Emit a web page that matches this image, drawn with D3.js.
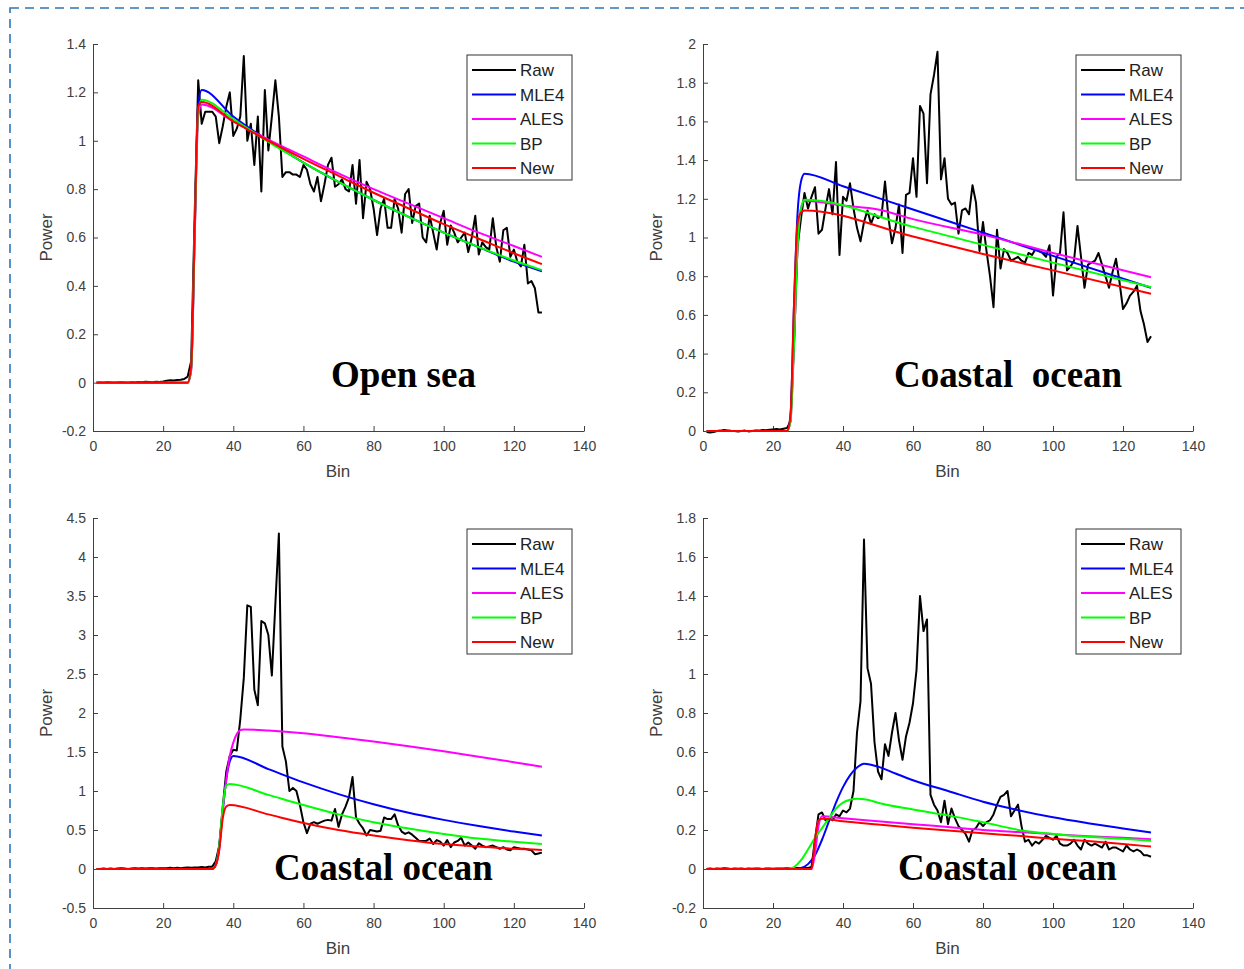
<!DOCTYPE html>
<html>
<head>
<meta charset="utf-8">
<script src="https://cdn.jsdelivr.net/npm/d3@7"></script>
<style>
  body { margin: 0; background: #fff; }
  svg { display: block; }
  .axis text { font-family: "Liberation Sans", Arial, sans-serif; font-size: 14px; fill: #404040; }
  .axis path, .axis line { stroke: #404040; stroke-width: 1; }
  .axis-label { font-family: "Liberation Sans", Arial, sans-serif; font-size: 17px; fill: #404040; }
  .legend text { font-family: "Liberation Sans", Arial, sans-serif; font-size: 17px; fill: #222; }
  .note { font-family: "Liberation Serif", "Times New Roman", serif; font-weight: bold; font-size: 37px; fill: #000; white-space: pre; }
</style>
</head>
<body>
<svg id="chart" width="1244" height="969"></svg>
<script>
// ---- data ----
const seriesNames = ["Raw", "MLE4", "ALES", "BP", "New"];
const seriesColors = ["#000000", "#0000ff", "#ff00ff", "#00ff00", "#ff0000"];
const xTicks = [0, 20, 40, 60, 80, 100, 120, 140];

// raw waveforms, bins 1..128
const openRaw = [
  0.000, 0.001, 0.000, 0.002, 0.001, 0.000, 0.001, 0.002, 0.001, 0.000,
  0.002, 0.001, 0.003, 0.002, 0.004, 0.003, 0.002, 0.004, 0.003, 0.005,
  0.008, 0.010, 0.009, 0.011, 0.012, 0.015, 0.025, 0.09, 0.70, 1.25,
  1.07, 1.12, 1.12, 1.12, 1.10, 0.99, 1.06, 1.14, 1.20, 1.02,
  1.05, 1.10, 1.35, 1.00, 1.07, 0.90, 1.10, 0.79, 1.21, 0.96,
  1.10, 1.25, 1.10, 0.85, 0.87, 0.87, 0.86, 0.86, 0.85, 0.90,
  0.88, 0.82, 0.79, 0.85, 0.75, 0.82, 0.90, 0.93, 0.81, 0.82,
  0.84, 0.80, 0.79, 0.90, 0.74, 0.92, 0.68, 0.83, 0.80, 0.72,
  0.61, 0.72, 0.76, 0.64, 0.64, 0.76, 0.72, 0.62, 0.78, 0.80,
  0.66, 0.73, 0.74, 0.60, 0.58, 0.69, 0.62, 0.55, 0.66, 0.71,
  0.57, 0.65, 0.62, 0.58, 0.60, 0.62, 0.54, 0.60, 0.69, 0.53,
  0.58, 0.56, 0.55, 0.68, 0.56, 0.50, 0.63, 0.64, 0.52, 0.55,
  0.50, 0.48, 0.57, 0.41, 0.42, 0.39, 0.29, 0.29
];
const coast1Raw = [
  -0.005, -0.008, -0.005, 0.000, 0.002, 0.005, 0.003, 0.001, 0.000, -0.002,
  0.000, 0.002, -0.002, 0.000, 0.003, 0.002, 0.005, 0.004, 0.006, 0.008,
  0.010, 0.008, 0.012, 0.015, 0.05, 0.45, 0.95, 1.10, 1.23, 1.15,
  1.21, 1.26, 1.02, 1.04, 1.15, 1.25, 1.12, 1.39, 0.91, 1.21,
  1.19, 1.28, 1.15, 1.05, 0.98, 1.08, 1.14, 1.07, 1.12, 1.10,
  1.11, 1.29, 1.10, 0.97, 1.05, 1.17, 0.92, 1.22, 1.23, 1.41,
  1.21, 1.68, 1.64, 1.28, 1.74, 1.84, 1.96, 1.30, 1.41, 1.20,
  1.17, 1.18, 1.02, 1.14, 1.15, 1.12, 1.27, 1.18, 0.93, 1.08,
  0.93, 0.80, 0.64, 1.04, 0.84, 0.94, 0.92, 0.88, 0.89, 0.90,
  0.88, 0.87, 0.92, 0.91, 0.94, 0.93, 0.92, 0.90, 0.96, 0.70,
  0.90, 0.92, 1.13, 0.83, 0.85, 0.88, 1.06, 0.90, 0.74, 0.86,
  0.87, 0.88, 0.92, 0.86, 0.80, 0.74, 0.82, 0.89, 0.77, 0.63,
  0.66, 0.70, 0.72, 0.75, 0.62, 0.55, 0.46, 0.49
];
const coast2Raw = [
  0.000, 0.000, 0.005, 0.000, 0.005, 0.000, 0.005, 0.010, 0.005, 0.000,
  0.005, 0.010, 0.005, 0.010, 0.005, 0.010, 0.010, 0.005, 0.010, 0.010,
  0.010, 0.015, 0.010, 0.015, 0.010, 0.015, 0.020, 0.015, 0.020, 0.020,
  0.025, 0.020, 0.030, 0.030, 0.10, 0.30, 0.80, 1.25, 1.45, 1.53,
  1.52, 1.92, 2.45, 3.38, 3.36, 2.30, 2.10, 3.18, 3.15, 3.00,
  2.48, 3.40, 4.30, 1.57, 1.38, 1.00, 1.04, 1.00, 0.82, 0.60,
  0.46, 0.58, 0.60, 0.58, 0.60, 0.62, 0.63, 0.62, 0.77, 0.54,
  0.70, 0.80, 0.92, 1.18, 0.66, 0.58, 0.52, 0.43, 0.50, 0.49,
  0.48, 0.49, 0.66, 0.64, 0.64, 0.70, 0.56, 0.48, 0.45, 0.47,
  0.44, 0.40, 0.36, 0.36, 0.36, 0.39, 0.32, 0.37, 0.35, 0.30,
  0.37, 0.28, 0.34, 0.36, 0.40, 0.30, 0.34, 0.30, 0.26, 0.33,
  0.30, 0.28, 0.29, 0.30, 0.28, 0.26, 0.28, 0.25, 0.24, 0.28,
  0.27, 0.26, 0.26, 0.25, 0.24, 0.19, 0.20, 0.21
];
const coast3Raw = [
  0.000, 0.002, 0.000, 0.003, 0.001, 0.004, 0.002, 0.000, 0.003, 0.001,
  0.002, 0.000, 0.002, 0.001, 0.003, 0.002, 0.000, 0.002, 0.003, 0.001,
  0.002, 0.003, 0.002, 0.004, 0.003, 0.004, 0.005, 0.004, 0.006, 0.005,
  0.010, 0.15, 0.28, 0.29, 0.25, 0.26, 0.25, 0.28, 0.27, 0.30,
  0.29, 0.31, 0.40, 0.70, 0.86, 1.69, 1.03, 0.95, 0.65, 0.50,
  0.46, 0.64, 0.58, 0.70, 0.80, 0.66, 0.56, 0.68, 0.75, 0.85,
  1.02, 1.40, 1.22, 1.28, 0.38, 0.33, 0.30, 0.24, 0.35, 0.23,
  0.31, 0.26, 0.22, 0.20, 0.18, 0.14, 0.20, 0.21, 0.24, 0.22,
  0.24, 0.25, 0.28, 0.33, 0.37, 0.38, 0.40, 0.27, 0.30, 0.33,
  0.22, 0.14, 0.15, 0.12, 0.14, 0.13, 0.15, 0.17, 0.16, 0.15,
  0.17, 0.13, 0.12, 0.12, 0.13, 0.15, 0.12, 0.10, 0.15, 0.13,
  0.12, 0.13, 0.12, 0.11, 0.14, 0.10, 0.11, 0.11, 0.10, 0.09,
  0.12, 0.10, 0.09, 0.10, 0.09, 0.07, 0.07, 0.063
];

// fitted models, [bin, power] knots
const openMLE4 = [[1,0],[27,0],[28,0.06],[29,0.62],[30,1.15],[31,1.21],[40,1.10],[50,1.00],[60,0.91],[70,0.83],[80,0.755],[90,0.685],[100,0.62],[110,0.56],[120,0.50],[128,0.46]];
const openALES = [[1,0],[27,0],[28,0.05],[29,0.60],[30,1.10],[31,1.15],[40,1.08],[50,1.005],[60,0.935],[70,0.865],[80,0.80],[90,0.74],[100,0.68],[110,0.62],[120,0.565],[128,0.52]];
const openBP   = [[1,0],[27,0],[28,0.06],[29,0.62],[30,1.12],[31,1.17],[40,1.09],[50,0.995],[60,0.91],[70,0.83],[80,0.755],[90,0.685],[100,0.62],[110,0.56],[120,0.505],[128,0.465]];
const openNew  = [[1,0],[27,0],[28,0.07],[29,0.64],[30,1.14],[31,1.16],[40,1.08],[50,1.00],[60,0.925],[70,0.855],[80,0.785],[90,0.72],[100,0.655],[110,0.595],[120,0.535],[128,0.49]];

const coast1MLE4 = [[1,0],[24,0],[25,0.08],[26,0.65],[27,1.12],[28,1.29],[29,1.33],[40,1.265],[60,1.145],[80,1.025],[100,0.905],[128,0.74]];
const coast1ALES = [[1,0],[24,0],[25,0.05],[26,0.45],[27,0.95],[28,1.15],[29,1.19],[40,1.165],[50,1.145],[60,1.095],[80,1.015],[100,0.92],[128,0.795]];
const coast1BP   = [[1,0],[24,0],[25,0.05],[26,0.45],[27,0.95],[28,1.15],[29,1.195],[60,1.055],[80,0.962],[100,0.87],[128,0.743]];
const coast1New  = [[1,0],[24,0],[25,0.08],[26,0.65],[27,1.07],[28,1.13],[29,1.14],[60,1.005],[80,0.915],[100,0.83],[128,0.709]];

const coast2MLE4 = [[1,0],[34,0],[35,0.05],[36,0.3],[37,0.75],[38,1.15],[39,1.38],[40,1.45],[50,1.28],[60,1.11],[70,0.96],[80,0.83],[90,0.72],[100,0.63],[110,0.55],[120,0.48],[128,0.43]];
const coast2ALES = [[1,0],[34,0],[35,0.05],[36,0.25],[37,0.75],[38,1.15],[39,1.45],[40,1.62],[41,1.73],[42,1.78],[43,1.79],[50,1.775],[60,1.74],[70,1.69],[80,1.635],[90,1.575],[100,1.51],[110,1.44],[120,1.37],[128,1.31]];
const coast2BP   = [[1,0],[34,0],[35,0.05],[36,0.3],[37,0.8],[38,1.07],[39,1.09],[50,0.95],[60,0.82],[70,0.70],[80,0.60],[90,0.52],[100,0.45],[110,0.39],[120,0.35],[128,0.32]];
const coast2New  = [[1,0],[34,0],[35,0.05],[36,0.25],[37,0.65],[38,0.80],[39,0.82],[50,0.70],[60,0.59],[70,0.50],[80,0.43],[90,0.37],[100,0.32],[110,0.29],[120,0.26],[128,0.245]];

const coast3MLE4 = [[1,0],[26,0],[28,0.005],[30,0.025],[32,0.07],[34,0.15],[36,0.245],[38,0.34],[40,0.42],[42,0.48],[44,0.52],[46,0.54],[48,0.535],[50,0.525],[55,0.49],[60,0.455],[70,0.40],[80,0.345],[88,0.31],[100,0.265],[110,0.235],[120,0.208],[128,0.187]];
const coast3ALES = [[1,0],[31,0],[32,0.08],[33,0.22],[34,0.27],[40,0.26],[50,0.245],[60,0.23],[70,0.215],[80,0.20],[90,0.19],[100,0.178],[110,0.168],[120,0.16],[128,0.152]];
const coast3BP   = [[1,0],[24,0],[26,0.01],[28,0.045],[30,0.10],[32,0.16],[34,0.21],[36,0.26],[38,0.31],[40,0.34],[42,0.355],[44,0.36],[47,0.355],[50,0.34],[60,0.305],[70,0.275],[80,0.24],[92,0.195],[100,0.18],[110,0.165],[120,0.155],[128,0.145]];
const coast3New  = [[1,0],[31,0],[32,0.15],[33,0.25],[34,0.258],[40,0.245],[50,0.228],[60,0.212],[70,0.197],[80,0.183],[90,0.17],[100,0.155],[110,0.143],[120,0.128],[128,0.115]];

const openYTicks   = [-0.2, 0, 0.2, 0.4, 0.6, 0.8, 1, 1.2, 1.4];
const coast1YTicks = [0, 0.2, 0.4, 0.6, 0.8, 1, 1.2, 1.4, 1.6, 1.8, 2];
const coast2YTicks = [-0.5, 0, 0.5, 1, 1.5, 2, 2.5, 3, 3.5, 4, 4.5];
const coast3YTicks = [-0.2, 0, 0.2, 0.4, 0.6, 0.8, 1, 1.2, 1.4, 1.6, 1.8];

const notes = ["Open sea", "Coastal  ocean", "Coastal ocean", "Coastal ocean"];

// ---- layout ----
const panels = [
  { raw: openRaw,   fits: [openMLE4, openALES, openBP, openNew],       yTicks: openYTicks,   note: notes[0],
    left: 93,  right: 584,  top: 44,  bottom: 431, noteX: 238, noteY: 343 },
  { raw: coast1Raw, fits: [coast1MLE4, coast1ALES, coast1BP, coast1New], yTicks: coast1YTicks, note: notes[1],
    left: 703, right: 1193, top: 44,  bottom: 431, noteX: 191, noteY: 343 },
  { raw: coast2Raw, fits: [coast2MLE4, coast2ALES, coast2BP, coast2New], yTicks: coast2YTicks, note: notes[2],
    left: 93,  right: 584,  top: 518, bottom: 908, noteX: 181, noteY: 362 },
  { raw: coast3Raw, fits: [coast3MLE4, coast3ALES, coast3BP, coast3New], yTicks: coast3YTicks, note: notes[3],
    left: 703, right: 1193, top: 518, bottom: 908, noteX: 195, noteY: 362 }
];

const svg = d3.select("#chart");

// dashed frame round the figure
svg.append("rect")
  .attr("x", 10).attr("y", 8)
  .attr("width", 1400).attr("height", 1100)
  .attr("fill", "none")
  .attr("stroke", "#2e75b6")
  .attr("stroke-width", 1.6)
  .attr("stroke-dasharray", "9,6");

panels.forEach(p => {
  const x = d3.scaleLinear().domain([0, 140]).range([p.left, p.right]);
  const y = d3.scaleLinear()
    .domain([p.yTicks[0], p.yTicks[p.yTicks.length - 1]])
    .range([p.bottom, p.top]);

  const g = svg.append("g");

  g.append("g")
    .attr("class", "axis")
    .attr("transform", `translate(0,${p.bottom})`)
    .call(d3.axisBottom(x).tickValues(xTicks).tickFormat(d => String(d))
      .tickSizeInner(-5).tickSizeOuter(0).tickPadding(10));

  g.append("g")
    .attr("class", "axis")
    .attr("transform", `translate(${p.left},0)`)
    .call(d3.axisLeft(y).tickValues(p.yTicks).tickFormat(d => String(d))
      .tickSizeInner(-5).tickSizeOuter(0).tickPadding(7));

  g.append("text")
    .attr("class", "axis-label")
    .attr("text-anchor", "middle")
    .attr("transform", `translate(${p.left - 41},${(p.top + p.bottom) / 2}) rotate(-90)`)
    .text("Power");

  g.append("text")
    .attr("class", "axis-label")
    .attr("text-anchor", "middle")
    .attr("x", (p.left + p.right) / 2 - 0.5)
    .attr("y", p.bottom + 46)
    .text("Bin");

  const rawLine = d3.line()
    .x((d, i) => x(i + 1))
    .y(d => y(d));

  const fitLine = d3.line()
    .x(d => x(d[0]))
    .y(d => y(d[1]))
    .curve(d3.curveMonotoneX);

  g.append("path")
    .datum(p.raw)
    .attr("d", rawLine)
    .attr("fill", "none")
    .attr("stroke", seriesColors[0])
    .attr("stroke-width", 2)
    .attr("stroke-linejoin", "round");

  p.fits.forEach((f, k) => {
    g.append("path")
      .datum(f)
      .attr("d", fitLine)
      .attr("fill", "none")
      .attr("stroke", seriesColors[k + 1])
      .attr("stroke-width", 2)
      .attr("stroke-linejoin", "round");
  });

  g.append("text")
    .attr("class", "note")
    .attr("x", p.left + p.noteX)
    .attr("y", p.top + p.noteY)
    .text(p.note);

  // legend
  const lx = p.right - 117, ly = p.top + 11;
  const leg = g.append("g").attr("class", "legend");
  leg.append("rect")
    .attr("x", lx).attr("y", ly)
    .attr("width", 105).attr("height", 125)
    .attr("fill", "#fff")
    .attr("stroke", "#333")
    .attr("stroke-width", 1);

  seriesNames.forEach((name, k) => {
    const cy = ly + 15 + k * 24.5;
    leg.append("line")
      .attr("x1", lx + 5).attr("x2", lx + 49)
      .attr("y1", cy).attr("y2", cy)
      .attr("stroke", seriesColors[k])
      .attr("stroke-width", 2);
    leg.append("text")
      .attr("x", lx + 53)
      .attr("y", cy + 6)
      .text(name);
  });
});
</script>
</body>
</html>
